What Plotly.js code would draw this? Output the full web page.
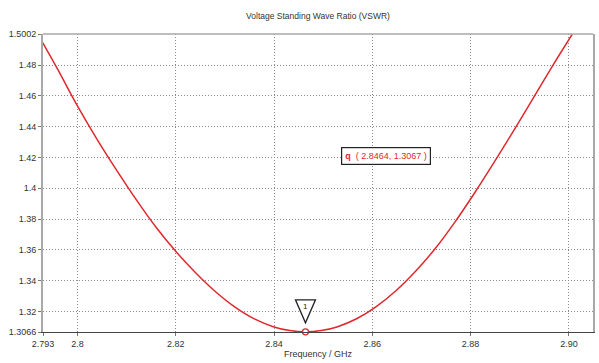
<!DOCTYPE html>
<html>
<head>
<meta charset="utf-8">
<script src="https://cdn.plot.ly/plotly-3.0.1.min.js"></script>
<style>html,body{margin:0;padding:0;background:#fff}#chart{width:599px;height:363px}</style>
</head>
<body>
<div id="chart"></div>
<script>
// Frequency (GHz) and VSWR
const freqGHz = [2.7929, 2.7960, 2.8000, 2.8040, 2.8080, 2.8120, 2.8160, 2.8200, 2.8240, 2.8280, 2.8320, 2.8360, 2.8400, 2.8432, 2.8464,
                 2.8496, 2.8528, 2.8568, 2.8608, 2.8648, 2.8688, 2.8728, 2.8768, 2.8808, 2.8848, 2.8888, 2.8928, 2.8968, 2.9007];
const vswr    = [1.4948, 1.4772, 1.4535, 1.4318, 1.4116, 1.3924, 1.3746, 1.3590, 1.3453, 1.3331, 1.3229, 1.3151, 1.3099, 1.3075, 1.3067,
                 1.3075, 1.3099, 1.3152, 1.3231, 1.3334, 1.3461, 1.3608, 1.3780, 1.3969, 1.4169, 1.4376, 1.4589, 1.4802, 1.5002];

const xTickVals = [2.793, 2.8, 2.82, 2.84, 2.86, 2.88, 2.90];
const xTickText = ["2.793", "2.8", "2.82", "2.84", "2.86", "2.88", "2.90"];
const yTickVals = [1.3066, 1.32, 1.34, 1.36, 1.38, 1.4, 1.42, 1.44, 1.46, 1.48, 1.5002];
const yTickText = ["1.3066", "1.32", "1.34", "1.36", "1.38", "1.4", "1.42", "1.44", "1.46", "1.48", "1.5002"];

const markerFreq = [2.8464];
const markerVswr = [1.3067];
const markerLabel = "( 2.8464, 1.3067 )";

const FONT = "Liberation Sans, Arial, sans-serif";

const traces = [
  {x: freqGHz, y: vswr, type: "scatter", mode: "lines",
   line: {color: "#e0282c", width: 1.5, shape: "spline", smoothing: 1},
   hoverinfo: "skip", cliponaxis: true},
  {x: markerFreq, y: markerVswr, type: "scatter", mode: "markers",
   marker: {symbol: "circle", size: 6, color: "#ffffff", line: {color: "#e0282c", width: 1.3}},
   cliponaxis: false, hoverinfo: "skip"}
];

const layout = {
  width: 599, height: 363,
  margin: {l: 43, r: 6, t: 34, b: 31, pad: 0},
  paper_bgcolor: "#ffffff", plot_bgcolor: "#ffffff",
  showlegend: false,
  font: {family: FONT, size: 9, color: "#333"},
  title: {text: "Voltage Standing Wave Ratio (VSWR)", font: {family: FONT, size: 8.5, color: "#333"},
          x: 0.5, xref: "paper", y: 0.955, yanchor: "middle"},
  xaxis: {
    range: [2.793, 2.9049], tickmode: "array", tickvals: xTickVals, ticktext: xTickText,
    showgrid: true, gridcolor: "#8a8a8a", griddash: "1px,2px", gridwidth: 1,
    showline: true, linecolor: "#444", linewidth: 1, mirror: false,
    ticks: "outside", ticklen: 3, tickcolor: "#777",
    tickfont: {family: FONT, size: 9, color: "#333"},
    zeroline: false,
    title: {text: "Frequency / GHz", font: {family: FONT, size: 9, color: "#333"}, standoff: 2}
  },
  yaxis: {
    range: [1.3066, 1.5002], tickmode: "array", tickvals: yTickVals, ticktext: yTickText,
    showgrid: true, gridcolor: "#8a8a8a", griddash: "1px,2px", gridwidth: 1,
    showline: true, linecolor: "#a8a8a8", linewidth: 2, mirror: true,
    ticks: "outside", ticklen: 3, tickcolor: "#777",
    tickfont: {family: FONT, size: 9, color: "#333"},
    zeroline: false
  },
  shapes: [
    {type: "line", xref: "paper", yref: "paper", x0: 0, x1: 1, y0: 1, y1: 1,
     line: {color: "#a8a8a8", width: 1.5}},
    {type: "path", xref: "x", yref: "y", xsizemode: "pixel", ysizemode: "pixel",
     xanchor: markerFreq[0], yanchor: markerVswr[0],
     path: "M -10,32 L 10,32 L 0,9 Z", fillcolor: "#ffffff", line: {color: "#222", width: 1.3}}
  ],
  annotations: [
    {x: markerFreq[0], y: markerVswr[0], xref: "x", yref: "y", text: "1", showarrow: false,
     yshift: 25, font: {family: FONT, size: 8, color: "#222"}},
    {x: 2.8627, y: 1.4212, xref: "x", yref: "y", showarrow: false,
     text: "<b>q</b>  " + markerLabel,
     font: {family: FONT, size: 9, color: "#e0282c"},
     bgcolor: "#ffffff", bordercolor: "#222", borderwidth: 1.2, borderpad: 3}
  ]
};

Plotly.newPlot("chart", traces, layout, {staticPlot: true, displayModeBar: false});
</script>
</body>
</html>
